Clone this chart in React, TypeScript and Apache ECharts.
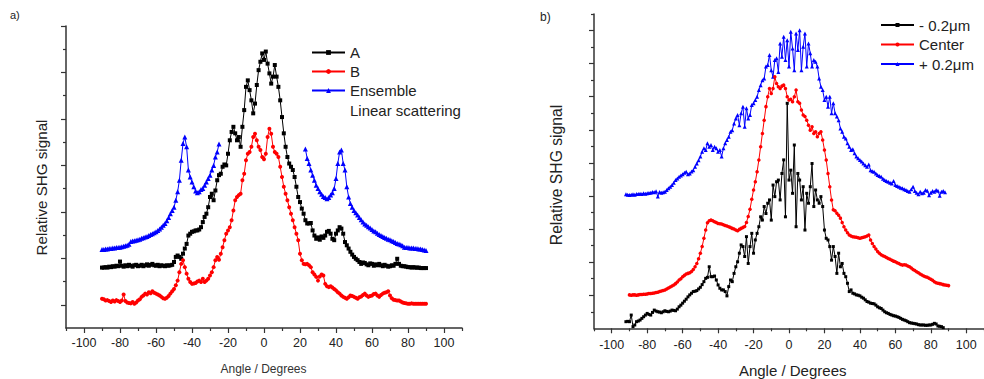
import React, { useEffect, useRef } from "react";
import * as echarts from "echarts";

// ---- Panel a) (left) ----
const LEFT_A_START = -90;
const leftA = [
  0.80,0.80,0.81,0.80,0.82,0.81,0.83,0.82,0.84,0.83,
  0.93,0.84,0.82,0.85,0.83,0.86,0.84,0.82,0.85,0.86,
  0.83,0.84,0.86,0.83,0.85,0.87,0.84,0.86,0.88,0.85,
  0.84,0.86,0.83,0.85,0.84,0.83,0.85,0.84,0.85,0.86,
  0.92,1.03,1.06,1.03,0.99,1.10,1.21,1.31,1.49,1.53,
  1.57,1.58,1.60,1.60,1.62,1.67,1.78,1.89,1.96,2.10,
  2.32,2.39,2.25,2.46,2.68,2.79,2.82,2.97,3.02,3.00,
  3.25,3.54,3.72,3.83,3.69,3.54,3.61,3.40,3.83,4.19,
  4.69,4.83,4.62,4.40,4.12,4.33,4.73,5.05,5.23,5.41,
  5.27,5.45,5.19,4.98,4.76,4.91,5.16,4.91,4.69,4.40,
  4.04,3.69,3.40,3.18,3.04,2.97,2.90,2.75,2.54,2.32,
  2.21,2.07,1.96,1.82,1.75,1.75,1.76,1.60,1.49,1.42,
  1.45,1.40,1.47,1.44,1.49,1.57,1.59,1.53,1.42,1.39,
  1.53,1.60,1.67,1.64,1.53,1.35,1.28,1.21,1.14,1.08,
  1.03,0.99,0.96,0.92,0.88,0.91,0.90,0.87,0.85,0.89,
  0.88,0.84,0.87,0.85,0.88,0.85,0.83,0.86,0.84,0.82,
  0.83,0.85,0.84,0.88,0.99,0.88,0.84,0.83,0.83,0.82,
  0.81,0.81,0.80,0.81,0.80,0.80,0.80,0.79,0.79,0.79,
  0.79,
];

const LEFT_B_START = -90;
const leftB = [
  0.13,0.12,0.09,0.10,0.08,0.06,0.09,0.07,0.10,0.08,
  0.06,0.09,0.22,0.08,0.05,0.04,0.03,0.06,0.02,0.05,
  0.09,0.12,0.17,0.20,0.24,0.22,0.27,0.25,0.29,0.26,
  0.24,0.22,0.20,0.17,0.14,0.13,0.15,0.19,0.24,0.29,
  0.34,0.42,0.52,0.70,0.88,0.96,0.81,0.67,0.56,0.49,
  0.45,0.46,0.47,0.50,0.52,0.49,0.56,0.49,0.52,0.56,
  0.63,0.70,0.81,0.96,1.03,0.97,1.10,1.24,1.39,1.53,
  1.60,1.67,1.82,2.03,2.25,2.32,2.36,2.39,2.68,2.82,
  3.11,3.25,3.29,3.40,3.61,3.68,3.54,3.40,3.33,3.18,
  3.13,3.25,3.61,3.79,3.68,3.40,3.29,3.25,3.18,2.97,
  2.75,2.54,2.39,2.25,2.10,1.96,1.82,1.67,1.53,1.39,
  1.10,0.96,0.88,0.87,0.88,0.85,0.81,0.70,0.65,0.60,
  0.52,0.61,0.65,0.63,0.45,0.40,0.38,0.40,0.37,0.34,
  0.31,0.27,0.24,0.20,0.17,0.15,0.13,0.16,0.20,0.19,
  0.17,0.15,0.13,0.16,0.18,0.21,0.24,0.20,0.17,0.19,
  0.20,0.23,0.24,0.20,0.17,0.21,0.24,0.26,0.27,0.29,
  0.20,0.14,0.11,0.10,0.09,0.09,0.07,0.05,0.04,0.03,
  0.02,0.02,0.03,0.02,0.02,0.02,0.02,0.02,0.02,0.02,
  0.02,
];

const LEFT_ENS_NEG_START = -90;
const leftEnsembleNeg = [
  1.19,1.19,1.20,1.20,1.21,1.21,1.22,1.22,1.23,1.23,
  1.24,1.25,1.26,1.27,1.28,1.30,1.36,1.37,1.38,1.39,
  1.40,1.41,1.43,1.44,1.46,1.47,1.49,1.51,1.53,1.55,
  1.57,1.60,1.63,1.67,1.71,1.75,1.81,1.88,1.96,2.03,
  2.10,2.25,2.43,2.68,3.11,3.47,3.61,3.40,2.90,2.75,
  2.64,2.54,2.45,2.41,2.43,2.48,2.50,2.57,2.64,2.72,
  2.79,2.90,3.00,3.18,3.29,3.46,
];
const LEFT_ENS_POS_START = 23;
const leftEnsemblePos = [
  3.35,3.15,3.04,2.90,2.79,2.68,2.57,2.50,2.43,2.38,
  2.33,2.31,2.28,2.31,2.36,2.41,2.50,2.72,3.04,3.29,
  3.33,3.04,2.90,2.54,2.32,2.18,2.10,2.03,1.98,1.93,
  1.88,1.83,1.78,1.74,1.71,1.68,1.65,1.62,1.59,1.57,
  1.54,1.51,1.49,1.47,1.45,1.43,1.41,1.40,1.38,1.36,
  1.34,1.32,1.31,1.29,1.27,1.24,1.23,1.23,1.22,1.22,
  1.22,1.21,1.21,1.20,1.20,1.19,1.18,1.17,
];

// ---- Panel b) (right) ----
const RIGHT_MINUS_START = -92;
const rightMinus = [
  0.20,0.21,0.20,0.40,0.05,0.10,0.20,0.22,0.25,0.30,
  0.35,0.40,0.45,0.42,0.40,0.48,0.55,0.52,0.50,0.49,
  0.47,0.50,0.53,0.51,0.50,0.52,0.55,0.54,0.53,0.58,
  0.65,0.70,0.76,0.82,0.88,0.95,1.01,1.06,1.11,1.12,
  1.14,1.19,1.24,1.32,1.41,1.51,1.54,1.86,1.56,1.56,
  1.58,1.46,1.31,1.21,1.16,1.16,1.11,0.98,1.26,1.46,
  1.41,1.66,1.86,2.01,2.27,2.52,2.47,2.17,2.77,1.96,
  2.47,2.87,2.27,2.67,2.87,3.07,3.37,3.27,3.68,3.47,
  3.78,3.88,3.27,4.33,3.98,4.43,4.48,3.88,4.68,5.09,
  3.37,6.80,4.48,4.78,4.08,5.54,3.07,4.68,4.48,3.88,
  4.28,2.97,4.08,3.78,4.28,4.98,3.68,4.18,3.88,3.78,
  3.98,3.68,2.97,2.72,2.67,2.47,2.06,2.47,2.17,1.66,
  2.27,1.86,1.96,1.66,1.56,1.36,1.11,1.16,1.06,1.04,
  1.01,1.00,0.98,0.94,0.91,0.86,0.81,0.79,0.76,0.75,
  0.74,0.70,0.65,0.62,0.60,0.55,0.50,0.47,0.45,0.42,
  0.40,0.38,0.37,0.35,0.33,0.30,0.27,0.25,0.23,0.20,
  0.17,0.16,0.15,0.14,0.13,0.11,0.10,0.10,0.10,0.09,
  0.09,0.10,0.10,0.12,0.15,0.13,0.07,0.06,0.05,0.02,
];

const RIGHT_CENTER_START = -90;
const rightCenter = [
  1.01,1.00,1.01,1.01,1.00,1.01,1.02,1.02,1.03,1.03,
  1.04,1.05,1.05,1.06,1.07,1.08,1.09,1.11,1.13,1.14,
  1.16,1.19,1.22,1.25,1.28,1.31,1.35,1.40,1.46,1.50,
  1.56,1.60,1.64,1.66,1.68,1.72,1.78,1.86,1.96,2.10,
  2.27,2.47,2.72,2.97,3.19,3.25,3.27,3.25,3.22,3.20,
  3.17,3.16,3.15,3.13,3.11,3.09,3.07,3.05,3.02,3.00,
  2.97,2.95,2.99,3.02,3.05,3.08,3.20,3.38,3.60,3.90,
  4.18,4.43,4.73,5.09,5.49,5.89,6.29,6.70,7.00,7.25,
  7.10,7.25,7.60,7.40,7.30,7.25,7.32,7.35,7.25,7.00,
  6.90,6.92,6.85,7.00,7.20,6.85,6.80,6.60,6.45,6.40,
  6.29,6.14,5.99,6.09,5.89,5.94,5.79,5.89,5.94,5.69,
  5.39,5.09,4.68,4.28,3.88,3.58,3.55,3.48,3.42,3.33,
  3.20,3.07,2.97,2.89,2.82,2.79,2.77,2.76,2.75,2.74,
  2.72,2.74,2.75,2.77,2.79,2.82,2.67,2.56,2.47,2.40,
  2.32,2.27,2.22,2.19,2.17,2.14,2.11,2.09,2.06,2.03,
  2.01,1.98,1.96,1.93,1.91,1.92,1.91,1.88,1.86,1.82,
  1.78,1.75,1.71,1.68,1.64,1.61,1.58,1.56,1.54,1.51,
  1.48,1.45,1.41,1.38,1.36,1.35,1.34,1.32,1.31,1.30,
  1.29,
];

const RIGHT_PLUS_START = -92;
const rightPlus = [
  4.05,4.04,4.03,4.04,4.05,4.04,4.06,4.06,4.07,4.06,
  4.08,4.07,4.08,4.09,4.10,4.12,4.11,4.14,3.98,4.12,
  4.10,4.11,4.13,4.18,4.23,4.28,4.33,4.40,4.48,4.53,
  4.58,4.62,4.66,4.70,4.73,4.66,4.68,4.74,4.78,4.88,
  4.98,5.08,5.19,5.34,5.44,5.39,5.59,5.49,5.54,5.39,
  5.49,5.44,5.34,5.39,5.19,5.44,5.59,5.69,5.79,5.94,
  5.99,6.19,6.34,6.45,6.14,6.50,6.70,6.09,6.65,6.34,
  6.45,6.75,6.80,6.90,7.00,7.20,7.35,7.50,7.55,7.91,
  7.96,8.26,7.80,7.60,8.11,8.16,7.75,8.61,8.21,8.81,
  8.11,8.71,7.91,8.96,8.46,7.80,8.91,8.41,9.01,7.80,
  8.51,8.91,7.91,8.61,8.31,7.91,8.11,8.06,7.91,7.55,
  7.30,7.20,6.90,7.00,6.70,7.00,6.50,6.80,6.50,6.40,
  6.29,6.04,5.94,5.79,5.74,5.59,5.49,5.39,5.41,5.29,
  5.19,5.14,5.09,5.04,4.98,4.93,4.88,4.95,4.78,4.75,
  4.73,4.68,4.63,4.60,4.58,4.52,4.48,4.45,4.43,4.40,
  4.38,4.45,4.33,4.30,4.28,4.25,4.23,4.20,4.18,4.15,
  4.13,4.20,4.28,4.15,4.10,4.05,4.13,4.08,4.10,4.18,
  4.16,4.02,4.10,4.15,4.13,4.18,4.16,4.01,4.13,4.15,
  4.11,
];

const X_MAJOR = [-100, -80, -60, -40, -20, 0, 20, 40, 60, 80, 100];
const X_MINOR = [-110, -90, -70, -50, -30, -10, 10, 30, 50, 70, 90, 110];
const LEFT_Y_MAJOR = [0, 1, 2, 3, 4, 5, 6];
const LEFT_Y_MINOR = [0.5, 1.5, 2.5, 3.5, 4.5, 5.5];
const RIGHT_Y_MAJOR = [1, 2, 3, 4, 5, 6, 7, 8, 9];
const RIGHT_Y_MINOR = [0.5, 1.5, 2.5, 3.5, 4.5, 5.5, 6.5, 7.5, 8.5, 9.5];

const toPairs = (start: number, vals: number[]) => vals.map((v, i) => [start + i, v]);

const FONT = "Liberation Sans, Arial, sans-serif";
const AXIS_COLOR = "#333";

function xAxes(grid: number, fontSize: number, margin: number) {
  const base = {
    type: "value",
    gridIndex: grid,
    position: "bottom",
    min: -110,
    max: 110,
    splitLine: { show: false },
  };
  return [
    {
      ...base,
      axisLine: { show: true, onZero: false, lineStyle: { color: AXIS_COLOR, width: 1.5 } },
      axisTick: { show: true, customValues: X_MAJOR, length: 5, lineStyle: { color: AXIS_COLOR, width: 1.2 } },
      axisLabel: { show: true, customValues: X_MAJOR, fontSize, fontFamily: FONT, color: "#222", margin },
    },
    {
      ...base,
      axisLine: { show: false, onZero: false },
      axisTick: { show: true, customValues: X_MINOR, length: 3, lineStyle: { color: AXIS_COLOR, width: 1.2 } },
      axisLabel: { show: false },
    },
  ];
}

function yAxes(grid: number, min: number, max: number, major: number[], minor: number[]) {
  const base = {
    type: "value",
    gridIndex: grid,
    position: "left",
    min,
    max,
    splitLine: { show: false },
    axisLabel: { show: false },
  };
  return [
    {
      ...base,
      axisLine: { show: true, onZero: false, lineStyle: { color: AXIS_COLOR, width: 1.5 } },
      axisTick: { show: true, customValues: major, length: 5, lineStyle: { color: AXIS_COLOR, width: 1.2 } },
    },
    {
      ...base,
      axisLine: { show: false, onZero: false },
      axisTick: { show: true, customValues: minor, length: 3, lineStyle: { color: AXIS_COLOR, width: 1.2 } },
    },
  ];
}

function lineSeries(
  name: string,
  data: any[],
  color: string,
  symbol: string,
  symbolSize: number,
  xAxisIndex: number,
  yAxisIndex: number
) {
  return {
    type: "line",
    name,
    data,
    xAxisIndex,
    yAxisIndex,
    symbol,
    symbolSize,
    showSymbol: true,
    showAllSymbol: true,
    connectNulls: false,
    lineStyle: { color, width: 1 },
    itemStyle: { color, borderWidth: 0 },
    emphasis: { disabled: true },
    z: 2,
  };
}

export default function App() {
  const ref = useRef<HTMLDivElement>(null);
  useEffect(() => {
    if (!ref.current) return;
    const chart = echarts.init(ref.current, null, { renderer: "svg" });
    const ensembleData = [
      ...toPairs(LEFT_ENS_NEG_START, leftEnsembleNeg),
      [0, "-"],
      ...toPairs(LEFT_ENS_POS_START, leftEnsemblePos),
    ];
    chart.setOption({
      animation: false,
      backgroundColor: "#ffffff",
      textStyle: { fontFamily: FONT },
      grid: [
        { left: 66, top: 26, width: 396, height: 302, containLabel: false },
        { left: 594, top: 14, width: 397, height: 314.3, containLabel: false },
      ],
      xAxis: [...xAxes(0, 12.5, 8), ...xAxes(1, 12.5, 10)],
      yAxis: [
        ...yAxes(0, -0.5, 6, LEFT_Y_MAJOR, LEFT_Y_MINOR),
        ...yAxes(1, 0, 9.5, RIGHT_Y_MAJOR, RIGHT_Y_MINOR),
      ],
      legend: [
        {
          data: ["A", "B", "Ensemble"],
          orient: "vertical",
          left: 311,
          top: 45,
          padding: 0,
          itemWidth: 33,
          itemHeight: 6,
          itemGap: 4,
          textStyle: { fontSize: 15, fontFamily: FONT, color: "#222" },
          selectedMode: false,
        },
        {
          data: ["- 0.2μm", "Center", "+ 0.2μm"],
          orient: "vertical",
          left: 880,
          top: 17.5,
          padding: 0,
          itemWidth: 33,
          itemHeight: 5,
          itemGap: 4.5,
          textStyle: { fontSize: 15, fontFamily: FONT, color: "#222" },
          selectedMode: false,
        },
      ],
      series: [
        lineSeries("Ensemble", ensembleData, "#0000ff", "triangle", 5, 0, 0),
        lineSeries("A", toPairs(LEFT_A_START, leftA), "#000000", "rect", 4, 0, 0),
        lineSeries("B", toPairs(LEFT_B_START, leftB), "#ff0000", "circle", 4, 0, 0),
        lineSeries("+ 0.2μm", toPairs(RIGHT_PLUS_START, rightPlus), "#0000ff", "triangle", 4, 2, 2),
        lineSeries("Center", toPairs(RIGHT_CENTER_START, rightCenter), "#ff0000", "circle", 3.5, 2, 2),
        lineSeries("- 0.2μm", toPairs(RIGHT_MINUS_START, rightMinus), "#000000", "rect", 3, 2, 2),
      ],
      graphic: [
        { type: "text", x: 10, y: 15, style: { text: "a)", fontSize: 11, fontFamily: FONT, fill: "#222", align: "left", verticalAlign: "middle" } },
        { type: "text", x: 540, y: 17, style: { text: "b)", fontSize: 12, fontFamily: FONT, fill: "#222", align: "left", verticalAlign: "middle" } },
        { type: "text", x: 350, y: 110, style: { text: "Linear scattering", fontSize: 15, fontFamily: FONT, fill: "#222", align: "left", verticalAlign: "middle" } },
        { type: "text", x: 41.7, y: 187.5, rotation: Math.PI / 2, style: { text: "Relative SHG signal", fontSize: 15.2, fontFamily: FONT, fill: "#222", align: "center", verticalAlign: "middle" } },
        { type: "text", x: 556.7, y: 175, rotation: Math.PI / 2, style: { text: "Relative SHG signal", fontSize: 15.7, fontFamily: FONT, fill: "#222", align: "center", verticalAlign: "middle" } },
        { type: "text", x: 263.5, y: 369, style: { text: "Angle / Degrees", fontSize: 12, fontFamily: FONT, fill: "#333", align: "center", verticalAlign: "middle" } },
        { type: "text", x: 792.7, y: 370.7, style: { text: "Angle / Degrees", fontSize: 15, fontFamily: FONT, fill: "#222", align: "center", verticalAlign: "middle" } },
      ],
    });
    return () => chart.dispose();
  }, []);
  return (
    <div
      ref={ref}
      style={{ position: "fixed", left: 0, top: 0, width: 984, height: 379, background: "#fff" }}
    />
  );
}
